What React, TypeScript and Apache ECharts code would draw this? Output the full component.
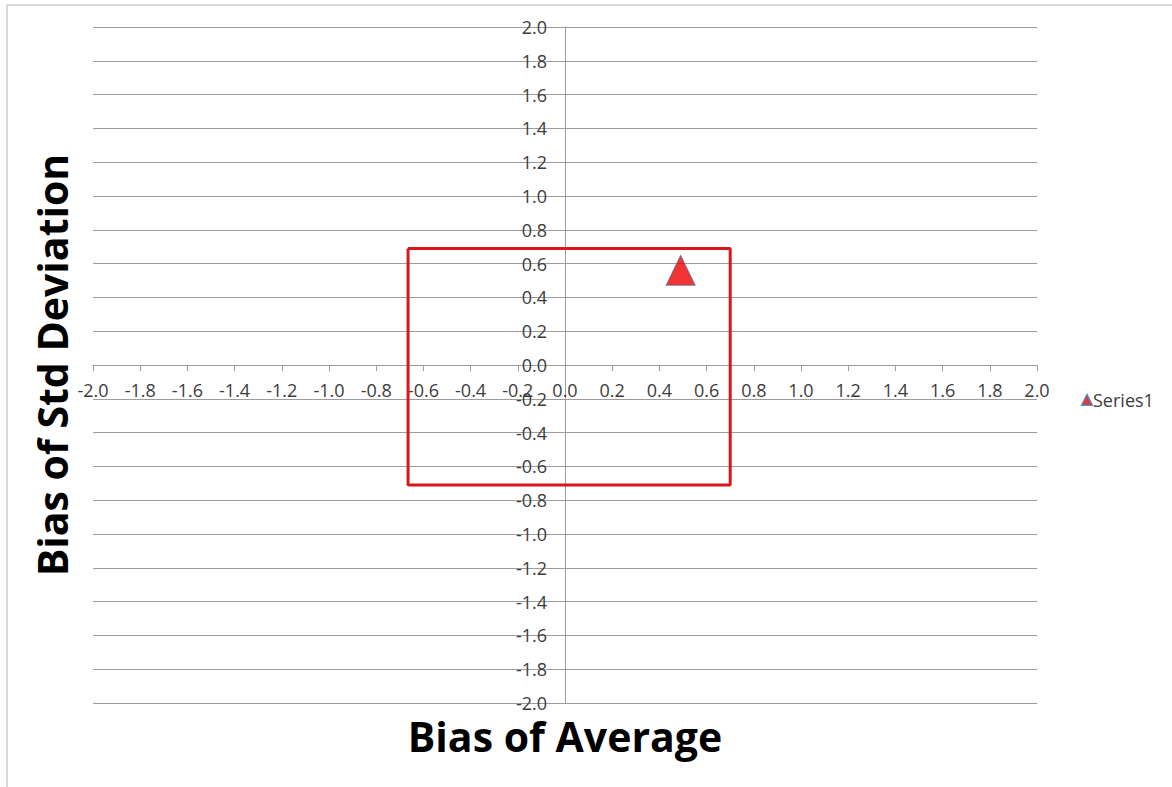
import React, { useEffect, useRef } from "react";
import * as echarts from "echarts";

const seriesName = "Series1";
const pointX = [0.49];
const pointY = [0.56];
const boxX = [-0.665, 0.7, 0.7, -0.665, -0.665];
const boxY = [0.69, 0.69, -0.71, -0.71, 0.69];
const axisMin = -2;
const axisMax = 2;
const axisStep = 0.2;
const xTitle = "Bias of Average";
const yTitle = "Bias of Std Deviation";

export default function App() {
  const ref = useRef<HTMLDivElement>(null);
  useEffect(() => {
    document.body.style.margin = "0";
    const chart = echarts.init(ref.current!, null, { renderer: "svg" });
    const labelColor = "#3c3c3c";
    const gridColor = "#9c9c9c";
    const font = "'Open Sans', sans-serif";
    const gridLeft = 93;
    const gridRight = 135;
    const gridTop = 27;
    const gridBottom = 84;
    const plotW = 1172 - gridLeft - gridRight;
    const plotH = 787 - gridTop - gridBottom;
    chart.setOption({
      animation: false,
      backgroundColor: "#ffffff",
      grid: { left: gridLeft, right: gridRight, top: gridTop, bottom: gridBottom, containLabel: false },
      xAxis: {
        type: "value",
        min: axisMin,
        max: axisMax,
        interval: axisStep,
        position: "bottom",
        offset: -plotH / 2,
        axisLine: { show: true, onZero: false, lineStyle: { color: gridColor, width: 1 } },
        axisTick: { show: true, inside: false, length: 6, lineStyle: { color: gridColor } },
        splitLine: { show: false },
        axisLabel: {
          margin: 16,
          color: labelColor,
          fontSize: 18,
          fontFamily: font,
          formatter: (v: number) => v.toFixed(1),
        },
      },
      yAxis: {
        type: "value",
        min: axisMin,
        max: axisMax,
        interval: axisStep,
        position: "left",
        offset: -plotW / 2,
        axisLine: { show: true, onZero: false, lineStyle: { color: gridColor, width: 1 } },
        axisTick: { show: false },
        splitLine: { show: true, lineStyle: { color: gridColor, width: 1 } },
        axisLabel: {
          margin: 18,
          color: labelColor,
          fontSize: 18,
          fontFamily: font,
          formatter: (v: number) => v.toFixed(1),
        },
      },
      legend: {
        data: [{ name: seriesName, icon: "triangle" }],
        orient: "vertical",
        left: 1076,
        top: 386,
        itemWidth: 10,
        itemHeight: 10,
        textStyle: { fontSize: 18, fontFamily: font, color: labelColor, padding: [0, 0, 0, -4] },
      },
      series: [
        {
          type: "line",
          name: "box",
          data: boxX.map((x, i) => [x, boxY[i]]),
          symbol: "none",
          lineStyle: { color: "#d8161c", width: 3 },
          silent: true,
          z: 3,
        },
        {
          type: "scatter",
          name: seriesName,
          data: pointX.map((x, i) => [x, pointY[i]]),
          symbol: "triangle",
          symbolSize: [29, 30],
          itemStyle: { color: "#ee0000", borderColor: "#5a6f96", borderWidth: 1 },
          z: 4,
        },
      ],
      graphic: [
        {
          type: "rect",
          shape: { x: 7, y: 5, width: 1300, height: 900 },
          style: { fill: "none", stroke: "#b4b4b4", lineWidth: 1 },
          silent: true,
          z: -1,
        },
        {
          type: "text",
          x: 565,
          y: 736,
          style: {
            text: xTitle,
            fontSize: 41,
            fontWeight: "bold",
            fontFamily: font,
            fill: "#000000",
            textAlign: "center",
            textVerticalAlign: "middle",
          },
        },
        {
          type: "text",
          x: 52,
          y: 365,
          rotation: Math.PI / 2,
          style: {
            text: yTitle,
            fontSize: 41,
            fontWeight: "bold",
            fontFamily: font,
            fill: "#000000",
            textAlign: "center",
            textVerticalAlign: "middle",
          },
        },
      ],
    });
    return () => chart.dispose();
  }, []);
  return <div ref={ref} style={{ width: 1172, height: 787, position: "absolute", left: 0, top: 0 }} />;
}
